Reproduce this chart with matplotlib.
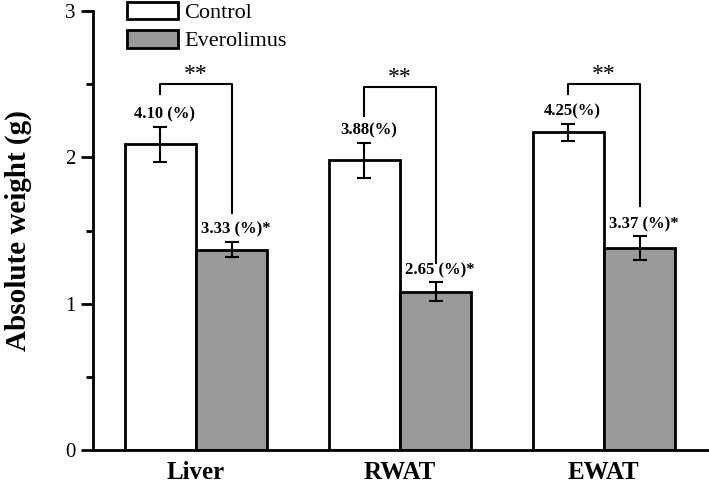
import numpy as np
import matplotlib.pyplot as plt
from matplotlib.ticker import MultipleLocator

plt.rcParams['font.family'] = ['Liberation Serif', 'DejaVu Serif']

# dati
tessuti = ['Liver', 'RWAT', 'EWAT']
control = [2.09, 1.98, 2.17]
control_err = [0.12, 0.12, 0.06]
everolimus = [1.37, 1.08, 1.38]
everolimus_err = [0.05, 0.065, 0.08]
lab_control = ['4.10 (%)', '3.88(%)', '4.25(%)']
lab_ever = ['3.33 (%)*', '2.65 (%)*', '3.37 (%)*']
# parentesi di significativita': altezza top, gamba sx, gamba dx
br_top = [2.50, 2.48, 2.50]
br_left = [2.43, 2.28, 2.43]
br_right = [1.62, 1.28, 1.67]

fig = plt.figure(figsize=(7.09, 4.84), dpi=100)
ax = fig.add_axes([0.131, 0.0702, 0.869, 0.907])

x = np.arange(len(tessuti))
w = 0.35
ax.bar(x - w/2, control, w, yerr=control_err, color='white', edgecolor='black',
       linewidth=2, capsize=5, error_kw={'elinewidth': 1.5, 'capthick': 1.5},
       label='Control', zorder=2)
ax.bar(x + w/2, everolimus, w, yerr=everolimus_err, color='#999999', edgecolor='black',
       linewidth=2, capsize=5, error_kw={'elinewidth': 1.5, 'capthick': 1.5},
       label='Everolimus', zorder=2)

for i in x:
    xl = i - w/2
    xr = i + w/2
    ax.plot([xl, xl, xr, xr], [br_left[i], br_top[i], br_top[i], br_right[i]],
            color='black', lw=1.5)
    ax.text(i, br_top[i] + 0.065, '**', ha='center', va='center', fontsize=17)
    ax.text(xl + 0.02, control[i] + control_err[i] + 0.03, lab_control[i], ha='center',
            va='bottom', fontsize=12, fontweight='bold')
    ax.text(xr + 0.02, everolimus[i] + everolimus_err[i] + 0.03, lab_ever[i], ha='center',
            va='bottom', fontsize=12, fontweight='bold')

ax.set_xlim(-0.505, 2.515)
ax.set_ylim(0, 3)
ax.set_xticks(x)
ax.set_xticklabels(tessuti, fontsize=18, fontweight='bold')
ax.tick_params(axis='x', length=0, pad=8)
ax.yaxis.set_major_locator(MultipleLocator(1))
ax.yaxis.set_minor_locator(MultipleLocator(0.5))
ax.tick_params(axis='y', which='major', length=9, width=2, labelsize=15, direction='out')
ax.tick_params(axis='y', which='minor', length=5, width=2, direction='out')
ax.set_ylabel('Absolute weight (g)', fontsize=21, fontweight='bold', labelpad=24)

ax.spines['top'].set_visible(False)
ax.spines['right'].set_visible(False)
ax.spines['left'].set_linewidth(2)
ax.spines['bottom'].set_linewidth(2)

leg = ax.legend(loc='upper left', bbox_to_anchor=(0.037, 1.047), frameon=False, fontsize=16,
                handlelength=2.3, handleheight=0.86, handletextpad=0.3, labelspacing=0.3,
                borderpad=0)

fig.savefig('out.png', dpi=100)
